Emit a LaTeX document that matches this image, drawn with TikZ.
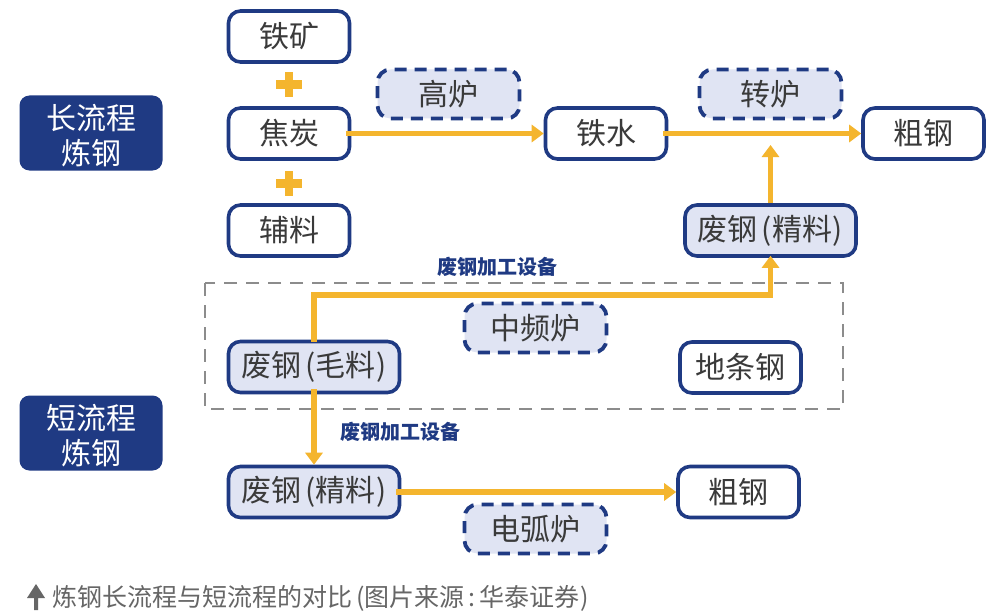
\documentclass[tikz,border=0pt]{standalone}
\usepackage{fontspec}
\setmainfont{Noto Sans CJK SC}
\usetikzlibrary{arrows.meta}
\definecolor{navy}{HTML}{1F3A83}
\definecolor{pale}{HTML}{E0E4F3}
\definecolor{gold}{HTML}{F4B52E}
\definecolor{ink}{HTML}{3A3A3A}
\definecolor{capt}{HTML}{666666}
\newcommand{\lp}{\hspace{4pt}(}
\newcommand{\rp}{\hspace{1pt})}
\tikzset{
 box/.style={rounded corners=12pt,line width=3.6pt,draw=navy,fill=white,text=ink,inner sep=0pt,font=\fontsize{30}{34}\selectfont},
 paled/.style={box,fill=pale},
 furn/.style={rounded corners=13pt,line width=3.8pt,draw=navy,fill=pale,text=ink,inner sep=0pt,font=\fontsize{30}{34}\selectfont,dash pattern=on 12pt off 8pt,minimum width=142pt,minimum height=49pt},
 tag/.style={rounded corners=10pt,fill=navy,text=white,inner sep=0pt,align=center,font=\fontsize{30}{34}\selectfont,minimum width=143pt,minimum height=75pt},
 flow/.style={draw=gold,line width=5.5pt,-{Triangle[width=17pt,length=12pt]}},
 note/.style={text=navy,font=\fontsize{20}{22}\selectfont\bfseries,inner sep=0pt},
 frame/.style={draw=gray!90,line width=1.6pt,dash pattern=on 13pt off 9pt},
 plus/.style={fill=gold}
}
\begin{document}
\begin{tikzpicture}[x=1pt,y=-1pt]
\useasboundingbox (0,0) rectangle (1000,615);
\fill[white] (0,0) rectangle (1000,615);
\draw[frame] (205,283) rectangle (843,409);
\node[tag] (long) at (91,133) {\rule{0pt}{30pt}长流程\\[1pt]炼钢};
\node[tag] (short) at (91,433) {\rule{0pt}{30pt}短流程\\[1pt]炼钢};
\node[box,minimum width=121pt,minimum height=51pt] (ore) at (289,36.5) {铁矿};
\node[box,minimum width=121pt,minimum height=51pt] (coke) at (289,133.5) {焦炭};
\node[box,minimum width=121pt,minimum height=51pt] (aux) at (289,230.5) {辅料};
\node[furn] (bf) at (448.5,94) {高炉};
\node[box,minimum width=121pt,minimum height=51pt] (iron) at (606,133.5) {铁水};
\node[furn] (conv) at (770.5,94) {转炉};
\node[box,minimum width=121pt,minimum height=51pt] (steelA) at (923.5,133.5) {粗钢};
\node[paled,minimum width=171pt,minimum height=51pt] (fineA) at (770.5,230.5) {废钢\lp 精料\rp};
\node[furn] (mf) at (535.5,328) {中频炉};
\node[box,minimum width=121pt,minimum height=51pt] (bar) at (740.5,367.5) {地条钢};
\node[paled,minimum width=171pt,minimum height=51pt] (raw) at (314,367) {废钢\lp 毛料\rp};
\node[paled,minimum width=171pt,minimum height=51pt] (fineB) at (314,492) {废钢\lp 精料\rp};
\node[box,minimum width=121pt,minimum height=51pt] (steelB) at (738.5,492) {粗钢};
\node[furn] (eaf) at (535.5,529) {电弧炉};
\node[note] (n1) at (497,267) {废钢加工设备};
\node[note] (n2) at (400,432) {废钢加工设备};
\fill[plus] (285,72) rectangle (293,97);
\fill[plus] (276,80) rectangle (302,89);
\fill[plus] (285,171) rectangle (293,196);
\fill[plus] (276,179) rectangle (302,188);
\coordinate (up) at (770.5,145);
\draw[flow] ([xshift=-5pt]coke.east) -- (iron.west);
\draw[flow] ([xshift=-5pt]iron.east) -- (steelA.west);
\draw[flow] (fineA.north) -- (up);
\draw[flow] ([yshift=-2pt]raw.north) |- (770.5,295) -- ([yshift=2pt]fineA.south);
\draw[flow] ([yshift=5pt]raw.south) -- (fineB.north);
\draw[flow] ([xshift=-5pt]fineB.east) -- (steelB.west);
\fill[capt] (36,584) -- (45,598) -- (38,598) -- (38,610) -- (34,610) -- (34,598) -- (27,598) -- cycle;
\node[anchor=west,text=capt,inner sep=0pt,font=\fontsize{25}{28}\selectfont] (cap) at (52,598) {炼钢长流程与短流程的对比\lp 图片来源\hspace{4pt}:\hspace{4pt}华泰证券\hspace{1pt})};
\end{tikzpicture}
\end{document}
